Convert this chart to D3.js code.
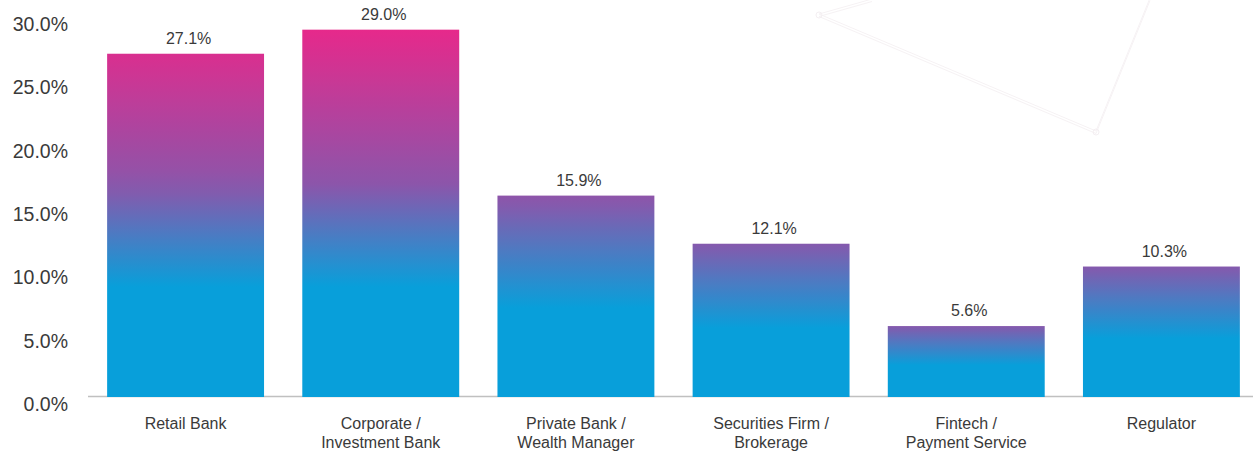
<!DOCTYPE html>
<html>
<head>
<meta charset="utf-8">
<script src="https://cdn.jsdelivr.net/npm/d3@7"></script>
<style>
  body { margin: 0; background: #fff; }
  svg { display: block; }
  text { font-family: "Liberation Sans", Arial, Helvetica, sans-serif; fill: #3a3a3a; }
</style>
</head>
<body>
<svg id="chart" width="1253" height="451"></svg>
<script>
// Share of respondents by institution type
const categories = [
  "Retail Bank",
  "Corporate /\nInvestment Bank",
  "Private Bank /\nWealth Manager",
  "Securities Firm /\nBrokerage",
  "Fintech /\nPayment Service",
  "Regulator"
];
const values = [27.1, 29.0, 15.9, 12.1, 5.6, 10.3];
const yTicks = [0, 5, 10, 15, 20, 25, 30];

const W = 1253, H = 451;
const svg = d3.select("#chart");

const baseY = 397;
const y = d3.scaleLinear().domain([0, 30]).range([baseY, baseY - 380]);
const x = d3.scaleBand()
  .domain(categories)
  .range([88, 1259])
  .paddingInner(0.196)
  .paddingOuter(0.098);

// faint background ornament in the top-right corner
const deco = svg.append("g").attr("fill", "none").attr("stroke", "#f6f2f4").attr("stroke-width", 1);
[0, 2.5].forEach(o => {
  deco.append("polyline")
    .attr("points", [[872, -1 + o], [819, 14 + o], [1096, 131 + o], [1150, -2 + o]].map(p => p.join(",")).join(" "));
});
deco.selectAll("circle.v").data([[819, 15], [1096, 132]]).join("circle")
  .attr("cx", d => d[0]).attr("cy", d => d[1]).attr("r", 3).attr("stroke", "#f4eff2");

// colour ramp pink -> purple -> blue -> cyan
const ramp = d3.scaleLinear()
  .domain([0, 0.6, 0.8, 1])
  .range(["#e6298b", "#8c55aa", "#4a7cc3", "#089fda"])
  .interpolate(d3.interpolateRgb);

const vMax = d3.max(values);
const defs = svg.append("defs");
values.forEach((v, i) => {
  const s0 = Math.min(0.62, (vMax - v) / vMax * 1.3);
  const cyanAt = 0.55 + 0.15 * (1 - s0 / 0.62);
  const g = defs.append("linearGradient")
    .attr("id", "barGrad" + i)
    .attr("x1", 0).attr("y1", 0).attr("x2", 0).attr("y2", 1);
  const n = 10;
  for (let k = 0; k <= n; k++) {
    const s = s0 + (1 - s0) * k / n;
    g.append("stop").attr("offset", (cyanAt * k / n).toFixed(3)).attr("stop-color", ramp(s));
  }
  g.append("stop").attr("offset", 1).attr("stop-color", ramp(1));
});

// baseline
svg.append("line")
  .attr("x1", 88).attr("x2", W)
  .attr("y1", baseY - 0.5).attr("y2", baseY - 0.5)
  .attr("stroke", "#c0c0c0").attr("stroke-width", 1.5);

// bars
svg.append("g").selectAll("rect")
  .data(values)
  .join("rect")
  .attr("x", (d, i) => x(categories[i]))
  .attr("width", x.bandwidth())
  .attr("y", d => y(d))
  .attr("height", d => y(0) - y(d))
  .attr("fill", (d, i) => `url(#barGrad${i})`);

// value labels
svg.append("g").selectAll("text")
  .data(values)
  .join("text")
  .attr("x", (d, i) => x(categories[i]) + x.bandwidth() / 2 + 3)
  .attr("y", d => y(d) - 10)
  .attr("text-anchor", "middle")
  .style("font-size", "16px")
  .text(d => d.toFixed(1) + "%");

// y axis
const yAxis = svg.append("g")
  .attr("transform", "translate(88,0)")
  .call(d3.axisLeft(y).tickValues(yTicks).tickFormat(d => d.toFixed(1) + "%").tickSize(0).tickPadding(20));
yAxis.select(".domain").remove();
yAxis.selectAll("text")
  .attr("dy", "0.7em")
  .style("font-size", "19.5px")
  .style("font-family", "\"Liberation Sans\", Arial, sans-serif")
  .attr("fill", "#3a3a3a");

// category labels
const catG = svg.append("g").selectAll("text")
  .data(categories)
  .join("text")
  .attr("x", d => x(d) + x.bandwidth() / 2)
  .attr("y", 429)
  .attr("text-anchor", "middle")
  .style("font-size", "16px");
catG.selectAll("tspan")
  .data(d => d.split("\n").map((t, j) => ({ t, j, cx: x(d) + x.bandwidth() / 2 })))
  .join("tspan")
  .attr("x", d => d.cx)
  .attr("dy", d => d.j === 0 ? 0 : 19)
  .text(d => d.t);
</script>
</body>
</html>
